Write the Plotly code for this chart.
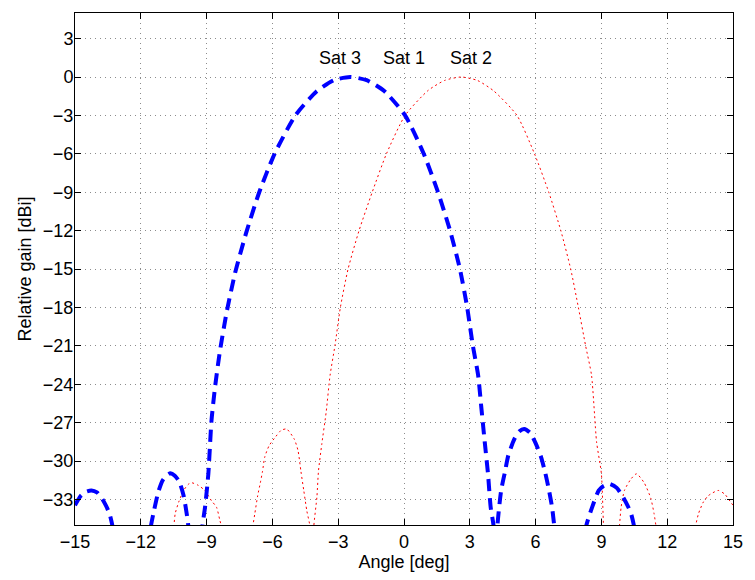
import plotly.graph_objects as go

# Antenna gain patterns (relative gain in dBi vs. off-axis angle in degrees)
sat3_angle = [-15.0, -14.75, -14.5, -14.25, -14.0, -13.8, -13.6, -13.43, -13.28, -12.4,
              -11.55, -11.4, -11.2, -11.0, -10.8, -10.65, -10.45, -10.25, -10.05, -9.9,
              -9.82, -9.5, -9.19, -9.07, -8.92, -8.78, -8.62, -8.4, -8.1, -7.7,
              -7.2, -6.6, -5.9, -4.95, -4.0, -3.2, -2.45, -1.7, -0.9, 0.05,
              0.9, 1.55, 2.1, 2.55, 2.88, 3.14, 3.38, 3.53, 3.68, 3.83,
              3.95, 4.1, 4.18, 4.25, 4.43, 4.61, 4.75, 5.03, 5.25, 5.48,
              5.75, 6.0, 6.25, 6.45, 6.6, 6.75, 6.86, 7.6, 8.29, 8.6,
              8.88, 9.1, 9.38, 9.7, 9.98, 10.2, 10.35, 10.5, 11.2, 12.5,
              14.0, 15.0]
sat3_gain = [-33.45, -32.75, -32.4, -32.3, -32.45, -32.85, -33.45, -34.1, -35.2, -48.0,
             -35.2, -33.9, -32.4, -31.5, -31.1, -30.95, -31.15, -31.6, -32.7, -34.2,
             -35.3, -45.0, -35.1, -33.6, -31.0, -26.9, -24.3, -21.5, -18.5, -15.3,
             -12.2, -9.0, -6.0, -3.0, -1.15, -0.25, 0.0, -0.25, -1.1, -3.0,
             -6.0, -9.0, -12.0, -15.0, -18.0, -21.0, -23.3, -25.9, -28.5, -31.0,
             -33.6, -35.3, -45.0, -35.3, -32.3, -30.8, -29.6, -28.3, -27.7, -27.5,
             -27.8, -28.6, -29.7, -31.0, -32.2, -33.6, -35.2, -45.0, -35.2, -33.5,
             -32.3, -31.95, -31.8, -32.1, -32.8, -33.5, -34.1, -35.2, -45.0, -50.0,
             -50.0, -50.0]

sat2_angle = [-15.0, -13.5, -12.0, -11.2, -10.5, -10.43, -10.27, -10.05, -9.82, -9.68,
              -9.38, -9.08, -8.78, -8.55, -8.4, -8.3, -7.6, -6.9, -6.8, -6.67,
              -6.55, -6.45, -6.35, -6.15, -5.85, -5.6, -5.35, -5.0, -4.83, -4.7,
              -4.57, -4.43, -4.27, -4.2, -4.12, -3.97, -3.9, -3.75, -3.55, -3.37,
              -3.15, -2.9, -2.55, -2.05, -1.45, -0.8, 0.05, 1.1, 1.85, 2.6,
              3.35, 4.1, 5.15, 5.95, 6.6, 7.15, 7.6, 7.95, 8.28, 8.55,
              8.78, 9.0, 9.1, 9.45, 9.82, 9.9, 10.05, 10.35, 10.6, 10.95,
              11.25, 11.4, 11.5, 12.4, 13.28, 13.43, 13.65, 13.88, 14.33, 14.63,
              14.93, 15.0]
sat2_gain = [-50.0, -50.0, -50.0, -45.0, -35.2, -34.1, -33.2, -32.3, -31.8, -31.7,
             -31.9, -32.3, -33.1, -33.6, -34.6, -35.3, -45.0, -35.2, -34.1, -32.7,
             -31.7, -30.8, -29.7, -28.8, -28.1, -27.6, -27.5, -28.3, -29.2, -30.8,
             -32.3, -33.9, -35.3, -45.0, -35.3, -32.8, -30.8, -28.7, -26.2, -23.3,
             -21.0, -18.0, -15.0, -12.0, -9.0, -6.0, -3.0, -1.05, -0.27, 0.0,
             -0.27, -1.1, -3.0, -6.0, -9.0, -12.0, -15.0, -18.0, -21.0, -23.3,
             -28.5, -31.0, -35.2, -45.0, -35.2, -33.6, -32.3, -31.4, -31.0, -31.7,
             -32.9, -34.1, -35.2, -45.0, -35.2, -34.1, -33.2, -32.7, -32.3, -32.6,
             -33.3, -33.45]

label_text = ["Sat 3", "Sat 1", "Sat 2"]
label_x = [-2.9, 0.0, 3.05]
label_y = [1.5, 1.5, 1.5]

x_ticks = [-15, -12, -9, -6, -3, 0, 3, 6, 9, 12, 15]
y_ticks = [3, 0, -3, -6, -9, -12, -15, -18, -21, -24, -27, -30, -33]

FONT = "Liberation Sans, Arial, Helvetica, sans-serif"
FSIZE = 18

fig = go.Figure()
fig.add_trace(go.Scatter(
    x=sat2_angle, y=sat2_gain, mode="lines",
    line=dict(color="#ff0000", width=1, dash="2px,3px", shape="spline", smoothing=0.6),
    showlegend=False, hoverinfo="skip"))
fig.add_trace(go.Scatter(
    x=sat3_angle, y=sat3_gain, mode="lines",
    line=dict(color="#0000ff", width=4, dash="12px,7px", shape="spline", smoothing=0.6),
    showlegend=False, hoverinfo="skip"))

for t, xv, yv in zip(label_text, label_x, label_y):
    fig.add_annotation(x=xv, y=yv, text=t, showarrow=False,
                       xanchor="center", yanchor="middle",
                       font=dict(family=FONT, size=FSIZE, color="black"))

axis_common = dict(
    showline=True, linecolor="black", linewidth=1, mirror="ticks",
    ticks="inside", ticklen=6, tickwidth=1, tickcolor="black",
    showgrid=True, gridcolor="#8c8c8c", gridwidth=1, griddash="1px,4px",
    zeroline=False,
    tickfont=dict(family=FONT, size=FSIZE, color="black"),
)

fig.update_xaxes(range=[-15, 15], tickvals=x_ticks,
                 title=dict(text="Angle [deg]", font=dict(family=FONT, size=FSIZE, color="black"),
                            standoff=4),
                 **axis_common)
fig.update_yaxes(range=[-35, 5], tickvals=y_ticks, ticklabelstandoff=-3,
                 title=dict(text="Relative gain [dBi]", font=dict(family=FONT, size=FSIZE, color="black"),
                            standoff=6),
                 **axis_common)

fig.update_layout(
    width=755, height=580, autosize=False,
    margin=dict(l=75, r=13, t=12, b=48),
    plot_bgcolor="white", paper_bgcolor="white",
    font=dict(family=FONT, size=FSIZE, color="black"),
)

fig.write_html("out.html")
